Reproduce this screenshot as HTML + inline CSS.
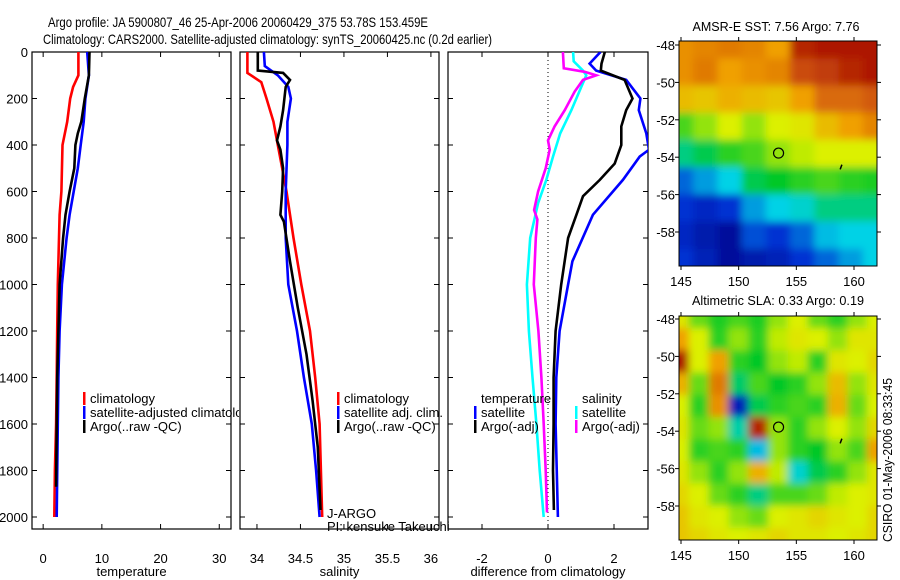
<!DOCTYPE html>
<html><head><meta charset="utf-8"><style>
html,body{margin:0;padding:0;background:#fff;}
svg{display:block;font-family:"Liberation Sans",sans-serif;}
</style></head><body>
<svg id="fig" width="900" height="580" viewBox="0 0 900 580" xmlns="http://www.w3.org/2000/svg">
<defs>
<filter id="blur1" x="-5%" y="-5%" width="110%" height="110%"><feGaussianBlur stdDeviation="4"/></filter>
<clipPath id="clipMap1"><rect x="679" y="41" width="198" height="225"/></clipPath>
<clipPath id="clipMap2"><rect x="679" y="316" width="198" height="224"/></clipPath>
<clipPath id="clipP1"><rect x="32" y="52" width="199" height="477"/></clipPath>
<clipPath id="clipP2"><rect x="240" y="52" width="199" height="477"/></clipPath>
<clipPath id="clipP3"><rect x="448" y="52" width="200" height="477"/></clipPath>
<clipPath id="clipLeg1"><rect x="0" y="0" width="239" height="580"/></clipPath>
</defs>
<text x="48" y="27" font-size="14" textLength="380" lengthAdjust="spacingAndGlyphs">Argo profile: JA 5900807_46 25-Apr-2006 20060429_375 53.78S 153.459E</text>
<text x="43" y="44" font-size="14" textLength="449" lengthAdjust="spacingAndGlyphs">Climatology: CARS2000. Satellite-adjusted climatology: synTS_20060425.nc (0.2d earlier)</text>
<text x="776" y="31" font-size="13" text-anchor="middle" textLength="167" lengthAdjust="spacingAndGlyphs">AMSR-E SST: 7.56 Argo: 7.76</text>
<text x="778" y="305" font-size="13" text-anchor="middle" textLength="172" lengthAdjust="spacingAndGlyphs">Altimetric SLA: 0.33 Argo: 0.19</text>
<text transform="translate(892,460) rotate(-90)" font-size="13" text-anchor="middle" textLength="164" lengthAdjust="spacingAndGlyphs">CSIRO 01-May-2006 08:33:45</text>
<g id="g"></g>
</svg>
<script>
// ---- data ----
const tDepth = [0,100,150,200,300,400,600,700,800,1000,1200,1400,1600,1800,2000];
const tClim  = [6.0,6.0,5.1,4.6,4.1,3.3,3.1,2.8,2.7,2.5,2.4,2.3,2.2,2.0,1.9];
const tSatDepth = [0,100,200,300,400,500,600,700,800,1000,1200,1400,1600,2000];
const tSat   = [7.5,7.8,7.2,6.9,6.4,5.9,5.2,4.5,4.0,3.2,2.8,2.6,2.5,2.3];
const tArgoDepth = [0,100,200,300,350,400,500,600,700,800,1000,1200,1400,1600,1870];
const tArgo  = [7.9,7.8,7.1,6.5,5.9,5.5,5.3,4.5,3.8,3.4,2.8,2.6,2.4,2.3,2.2];

const sClimDepth = [0,90,130,200,300,400,500,600,800,1000,1200,1400,1600,2000];
const sClim = [33.89,33.89,34.05,34.11,34.19,34.24,34.29,34.34,34.42,34.51,34.61,34.67,34.72,34.75];
const sSatDepth = [0,60,100,150,200,300,400,600,800,1000,1200,1400,1600,1800,2000];
const sSat = [34.08,34.09,34.24,34.36,34.39,34.35,34.35,34.33,34.33,34.36,34.46,34.54,34.63,34.68,34.72];
const sArgoDepth = [0,80,90,120,150,250,320,380,420,500,600,700,730,900,1100,1300,1500,1700,1970];
const sArgo = [34.01,34.01,34.30,34.38,34.33,34.30,34.27,34.23,34.27,34.30,34.29,34.27,34.31,34.38,34.47,34.57,34.64,34.70,34.73];

const dTSatDepth = [0,50,80,120,200,250,350,420,450,550,700,900,1000,1200,1400,1600,2000];
const dTSat = [1.59,1.26,1.46,2.37,2.8,2.75,2.98,3.06,2.78,2.27,1.36,0.74,0.61,0.35,0.25,0.23,0.3];
const dTArgoDepth = [0,50,80,120,200,250,320,400,480,550,620,700,800,1000,1200,1400,1600,1800,1970];
const dTArgo = [1.72,1.62,1.6,2.32,2.56,2.37,2.22,2.22,2.02,1.57,1.06,0.86,0.61,0.40,0.23,0.17,0.17,0.15,0.18];
const dSSatDepth = [0,40,80,100,150,250,350,450,550,650,800,1000,1200,1400,1600,1800,2000];
const dSSat = [0.76,0.78,1.06,1.16,1.01,0.71,0.37,0.15,-0.05,-0.30,-0.54,-0.64,-0.58,-0.47,-0.35,-0.25,-0.13];
const dSArgoDepth = [0,70,85,100,120,170,250,320,380,420,500,600,680,720,800,1000,1200,1400,1600,1800,1980];
const dSArgo = [0.45,0.48,1.11,1.46,1.06,0.81,0.51,0.2,0.0,0.05,-0.07,-0.30,-0.42,-0.32,-0.37,-0.43,-0.29,-0.2,-0.13,-0.07,-0.03];

const depthTicks = [0,200,400,600,800,1000,1200,1400,1600,1800,2000];
const tTicks = [0,10,20,30];
const sTicks = [34,34.5,35,35.5,36];
const sTickLabels = ["34","34.5","35","35.5","36"];
const dTicks = [-2,0,2];
const lonTicks = [145,150,155,160];
const latTicks = [-48,-50,-52,-54,-56,-58];

// map grids (normalized colour value 0..1), rows from -48 (top) to -60, cols 145..162
const sstGrid = [
 [0.78,0.8,0.82,0.8,0.75,0.95,0.97,0.97,0.97],
 [0.78,0.82,0.75,0.78,0.8,0.9,0.92,0.95,0.97],
 [0.7,0.68,0.72,0.7,0.68,0.75,0.85,0.85,0.88],
 [0.5,0.55,0.6,0.55,0.6,0.62,0.7,0.75,0.8],
 [0.38,0.42,0.48,0.5,0.55,0.58,0.6,0.6,0.6],
 [0.2,0.25,0.3,0.42,0.45,0.48,0.5,0.48,0.47],
 [0.15,0.12,0.15,0.25,0.3,0.32,0.38,0.38,0.38],
 [0.12,0.08,0.05,0.18,0.15,0.2,0.28,0.3,0.3],
 [0.15,0.1,0.05,0.08,0.1,0.15,0.2,0.25,0.3]
];
const slaGrid = [
 [0.62,0.52,0.47,0.5,0.47,0.55,0.6,0.52,0.48,0.55,0.6],
 [0.75,0.6,0.48,0.55,0.48,0.58,0.62,0.6,0.55,0.62,0.62],
 [0.97,0.6,0.75,0.48,0.45,0.55,0.58,0.48,0.62,0.6,0.65],
 [0.72,0.52,0.82,0.4,0.5,0.45,0.48,0.55,0.7,0.55,0.62],
 [0.6,0.48,0.78,0.1,0.42,0.48,0.5,0.48,0.72,0.52,0.6],
 [0.62,0.52,0.55,0.35,0.95,0.55,0.48,0.55,0.6,0.55,0.65],
 [0.6,0.48,0.5,0.48,0.28,0.55,0.48,0.45,0.55,0.5,0.75],
 [0.62,0.55,0.48,0.55,0.72,0.58,0.32,0.42,0.48,0.55,0.62],
 [0.65,0.6,0.52,0.48,0.38,0.5,0.5,0.52,0.58,0.6,0.62],
 [0.68,0.62,0.6,0.55,0.52,0.6,0.62,0.65,0.62,0.6,0.65],
 [0.68,0.65,0.62,0.6,0.62,0.65,0.62,0.62,0.6,0.62,0.65]
];
const argoLon = 153.459, argoLat = -53.78;

// ---- helpers ----
const NS = "http://www.w3.org/2000/svg";
const root = document.getElementById('g');
function mk(tag, attrs, parent){ const e=document.createElementNS(NS,tag); for(const k in attrs) e.setAttribute(k,attrs[k]); (parent||root).appendChild(e); return e; }
const yDepth = d => 52 + d*0.2325;

function panel(name, x0, x1, xmin, xmax, ticks, labels, xlabel){
  const xs = v => x0 + (v-xmin)/(xmax-xmin)*(x1-x0);
  const g = mk('g',{});
  
  
  const fr = mk('rect',{x:x0,y:52,width:x1-x0,height:477,fill:'none',stroke:'#000','stroke-width':1.2},g);
  
  
  ticks.forEach((t,i)=>{
    const x = xs(t);
    mk('line',{x1:x,x2:x,y1:529,y2:524,stroke:'#000'},g);
    mk('line',{x1:x,x2:x,y1:52,y2:57,stroke:'#000'},g);
    const tl = mk('text',{x:x,y:563,'font-size':13,'text-anchor':'middle'},g);
    tl.textContent = labels[i];
    
    
  });
  depthTicks.forEach(d=>{
    const y = yDepth(d);
    mk('line',{x1:x0,x2:x0+5,y1:y,y2:y,stroke:'#000'},g);
    mk('line',{x1:x1,x2:x1-5,y1:y,y2:y,stroke:'#000'},g);
  });
  const xl = mk('text',{x:(x0+x1)/2,y:576,'font-size':13,'text-anchor':'middle'},g);
  xl.textContent = xlabel;
  
  
  return {xs,g};
}
function line(p, clip, depths, vals, color, name){
  const pts = depths.map((d,i)=>p.xs(vals[i]).toFixed(1)+','+yDepth(d).toFixed(1)).join(' ');
  const l = mk('polyline',{points:pts,fill:'none',stroke:color,'stroke-width':2.6,'clip-path':'url(#'+clip+')'},p.g);
  
  
}
function legend(x, y, color, text, g, name){
  if(color) mk('rect',{x:x,y:y-11,width:2.5,height:13,fill:color},g);
  const t = mk('text',{x:x+7,y:y,'font-size':13},g);
  t.textContent = text;
  
  
}

// y-axis depth labels
depthTicks.forEach(d=>{
  const t = mk('text',{x:28,y:yDepth(d)+5,'font-size':13,'text-anchor':'end'});
  t.textContent = d;
  
  
});

// panel 1 temperature
const p1 = panel('temperature-panel',32,231,-1.9,32,tTicks,tTicks.map(String),'temperature');
line(p1,'clipP1',tDepth,tClim,'#ff0000','temp-climatology-line');
line(p1,'clipP1',tSatDepth,tSat,'#0000ff','temp-satellite-line');
line(p1,'clipP1',tArgoDepth,tArgo,'#000000','temp-argo-line');
const leg1 = mk('g',{'clip-path':'url(#clipLeg1)'},p1.g);
legend(83,403,'#ff0000','climatology',leg1,'legend-climatology');
legend(83,417,'#0000ff','satellite-adjusted climatology',leg1,'legend-satellite-adjusted');
legend(83,431,'#000000','Argo(..raw -QC)',leg1,'legend-argo');

// panel 2 salinity
const p2 = panel('salinity-panel',240,439,33.805,36.093,sTicks,sTickLabels,'salinity');
line(p2,'clipP2',sClimDepth,sClim,'#ff0000','sal-climatology-line');
line(p2,'clipP2',sSatDepth,sSat,'#0000ff','sal-satellite-line');
line(p2,'clipP2',sArgoDepth,sArgo,'#000000','sal-argo-line');
legend(337,403,'#ff0000','climatology',p2.g,'legend-climatology');
legend(337,417,'#0000ff','satellite adj. clim.',p2.g,'legend-satellite-adj');
legend(337,431,'#000000','Argo(..raw -QC)',p2.g,'legend-argo');
const j1 = mk('text',{x:327,y:518,'font-size':13},p2.g); j1.textContent='J-ARGO';


const j2 = mk('text',{x:327,y:531,'font-size':13},p2.g); j2.textContent='PI: kensuke Takeuchi';



// panel 3 difference
const p3 = panel('difference-panel',448,648,-3.03,3.03,dTicks,dTicks.map(String),'difference from climatology');
mk('line',{x1:p3.xs(0),x2:p3.xs(0),y1:52,y2:529,stroke:'#000','stroke-dasharray':'1,3'},p3.g);
line(p3,'clipP3',dTSatDepth,dTSat,'#0000ff','diff-temp-satellite-line');
line(p3,'clipP3',dTArgoDepth,dTArgo,'#000000','diff-temp-argo-line');
line(p3,'clipP3',dSSatDepth,dSSat,'#00ffff','diff-sal-satellite-line');
line(p3,'clipP3',dSArgoDepth,dSArgo,'#ff00ff','diff-sal-argo-line');
legend(474,403,null,'temperature',p3.g,'legend-temperature-heading');
legend(474,417,'#0000ff','satellite',p3.g,'legend-temp-satellite');
legend(474,431,'#000000','Argo(-adj)',p3.g,'legend-temp-argo');
legend(575,403,null,'salinity',p3.g,'legend-salinity-heading');
legend(575,417,'#00ffff','satellite',p3.g,'legend-sal-satellite');
legend(575,431,'#ff00ff','Argo(-adj)',p3.g,'legend-sal-argo');

// ---- maps ----
const stops = [[0,[0,0,128]],[0.15,[0,48,210]],[0.3,[0,210,230]],[0.45,[0,200,40]],[0.6,[220,240,0]],[0.75,[240,160,0]],[0.88,[210,90,10]],[1,[160,0,0]]];
function cmap(v){
  v=Math.max(0,Math.min(1,v));
  for(let i=1;i<stops.length;i++){ if(v<=stops[i][0]){ const a=stops[i-1],b=stops[i],t=(v-a[0])/(b[0]-a[0]); return 'rgb('+a[1].map((c,k)=>Math.round(c+(b[1][k]-c)*t)).join(',')+')'; } }
  return 'rgb(160,0,0)';
}
function map(name, x, y, w, h, grid, clip, lat48y, lat58y){
  const lonX = lon => 681 + (lon-145)*(854-681)/15;
  const latY = lat => lat48y + (-48-lat)*(lat58y-lat48y)/10;
  const g = mk('g',{});
  
  
  const img = mk('g',{'clip-path':'url(#'+clip+')'},g);
  const inner = mk('g',{filter:'url(#blur1)'},img);
  const rows=grid.length, cols=grid[0].length;
  const cw=(w+20)/cols, ch=(h+20)/rows;
  grid.forEach((row,r)=>row.forEach((v,c)=>{
    const cell = mk('rect',{x:x-10+c*cw,y:y-10+r*ch,width:cw+1,height:ch+1,fill:cmap(v)},inner);
    
    
  }));
  mk('rect',{x:x,y:y,width:w,height:h,fill:'none',stroke:'#000'},g);
  lonTicks.forEach(l=>{
    const xx=lonX(l);
    mk('line',{x1:xx,x2:xx,y1:y+h,y2:y+h+4,stroke:'#000'},g);
    mk('line',{x1:xx,x2:xx,y1:y,y2:y-4,stroke:'#000'},g);
    const t=mk('text',{x:xx,y:y+h+20,'font-size':13,'text-anchor':'middle'},g); t.textContent=l;
    
    
  });
  latTicks.forEach(l=>{
    const yy=latY(l);
    mk('line',{x1:x,x2:x-4,y1:yy,y2:yy,stroke:'#000'},g);
    mk('line',{x1:x+w,x2:x+w+4,y1:yy,y2:yy,stroke:'#000'},g);
    const t=mk('text',{x:x-4,y:yy+5,'font-size':13,'text-anchor':'end'},g); t.textContent=l;
    
    
  });
  const m = mk('circle',{cx:lonX(argoLon),cy:latY(argoLat),r:5,fill:'none',stroke:'#000','stroke-width':1.2},g);
  
  
  mk('line',{x1:lonX(158.8),y1:latY(-54.65),x2:lonX(158.95),y2:latY(-54.4),stroke:'#000','stroke-width':1.5},g);
}
map('sst-map',679,41,198,225,sstGrid,'clipMap1',45,232);
map('sla-map',679,316,198,224,slaGrid,'clipMap2',319,506);
</script>
</body></html>
